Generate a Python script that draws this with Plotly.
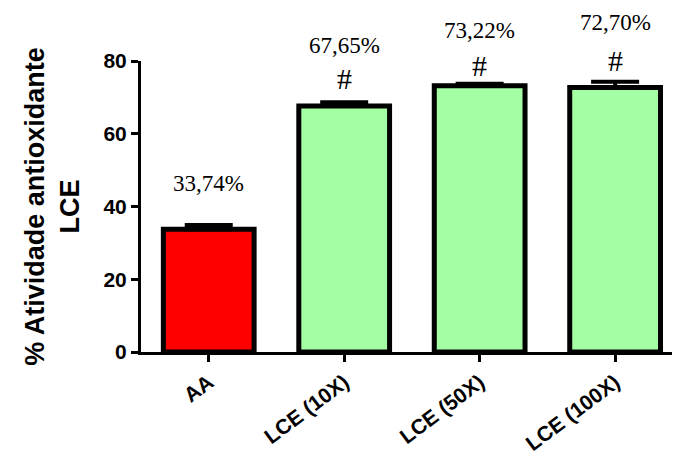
import plotly.graph_objects as go

# Antioxidant activity of the LCE extract vs. ascorbic acid
categories = ["AA", "LCE (10X)", "LCE (50X)", "LCE (100X)"]
activity = [33.74, 67.65, 73.22, 72.70]
sem = [1.2, 1.0, 0.5, 1.6]
value_labels = ["33,74%", "67,65%", "73,22%", "72,70%"]
significance = ["", "#", "#", "#"]
label_y = [46.4, 84.3, 88.5, 90.7]
mark_y = [None, 75.3, 78.8, 80.2]
y_ticks = [0, 20, 40, 60, 80]
y_max = 80

bar_colors = ["#FF0000", "#A4FFA4", "#A4FFA4", "#A4FFA4"]
x = list(range(len(categories)))

fig = go.Figure()
fig.add_trace(go.Bar(
    x=x, y=activity, width=0.67,
    marker=dict(color=bar_colors, line=dict(color="black", width=5)),
    error_y=dict(type="data", array=sem, symmetric=False, arrayminus=[0] * 4,
                 color="black", thickness=4, width=24),
    showlegend=False,
))

# value and significance labels above each bar (paper coords so they may sit above the axis top)
for i in x:
    fig.add_annotation(x=i, y=label_y[i] / y_max, text=value_labels[i], showarrow=False,
                       font=dict(family="Liberation Serif", size=23, color="black"),
                       xref="x", yref="paper", yanchor="middle")
    if significance[i]:
        fig.add_annotation(x=i, y=mark_y[i] / y_max, text=significance[i], showarrow=False,
                           font=dict(family="Liberation Serif", size=30, color="black"),
                           xref="x", yref="paper", yanchor="middle")

fig.update_layout(
    width=680, height=457,
    margin=dict(l=141, r=8, t=61, b=105),
    plot_bgcolor="white", paper_bgcolor="white",
    xaxis=dict(
        range=[-0.5, 3.42], tickmode="array", tickvals=x, ticktext=categories,
        tickangle=-37, showline=True, linecolor="black", linewidth=3,
        ticks="outside", ticklen=7, tickwidth=3, tickcolor="black",
        showgrid=False, zeroline=False, automargin=False,
        tickfont=dict(family="Liberation Sans", size=21, color="black", weight="bold"),
    ),
    yaxis=dict(
        range=[0, y_max], tickvals=y_ticks, showline=True, linecolor="black", linewidth=3,
        ticks="outside", ticklen=7, tickwidth=3, tickcolor="black",
        showgrid=False, zeroline=False, automargin=False,
        tickfont=dict(family="Liberation Sans", size=21, color="black", weight="bold"),
        title=dict(text="% Atividade antioxidante<br>LCE", standoff=16,
                   font=dict(family="Liberation Sans", size=27, color="black", weight="bold")),
    ),
)

fig.write_html("out.html")
